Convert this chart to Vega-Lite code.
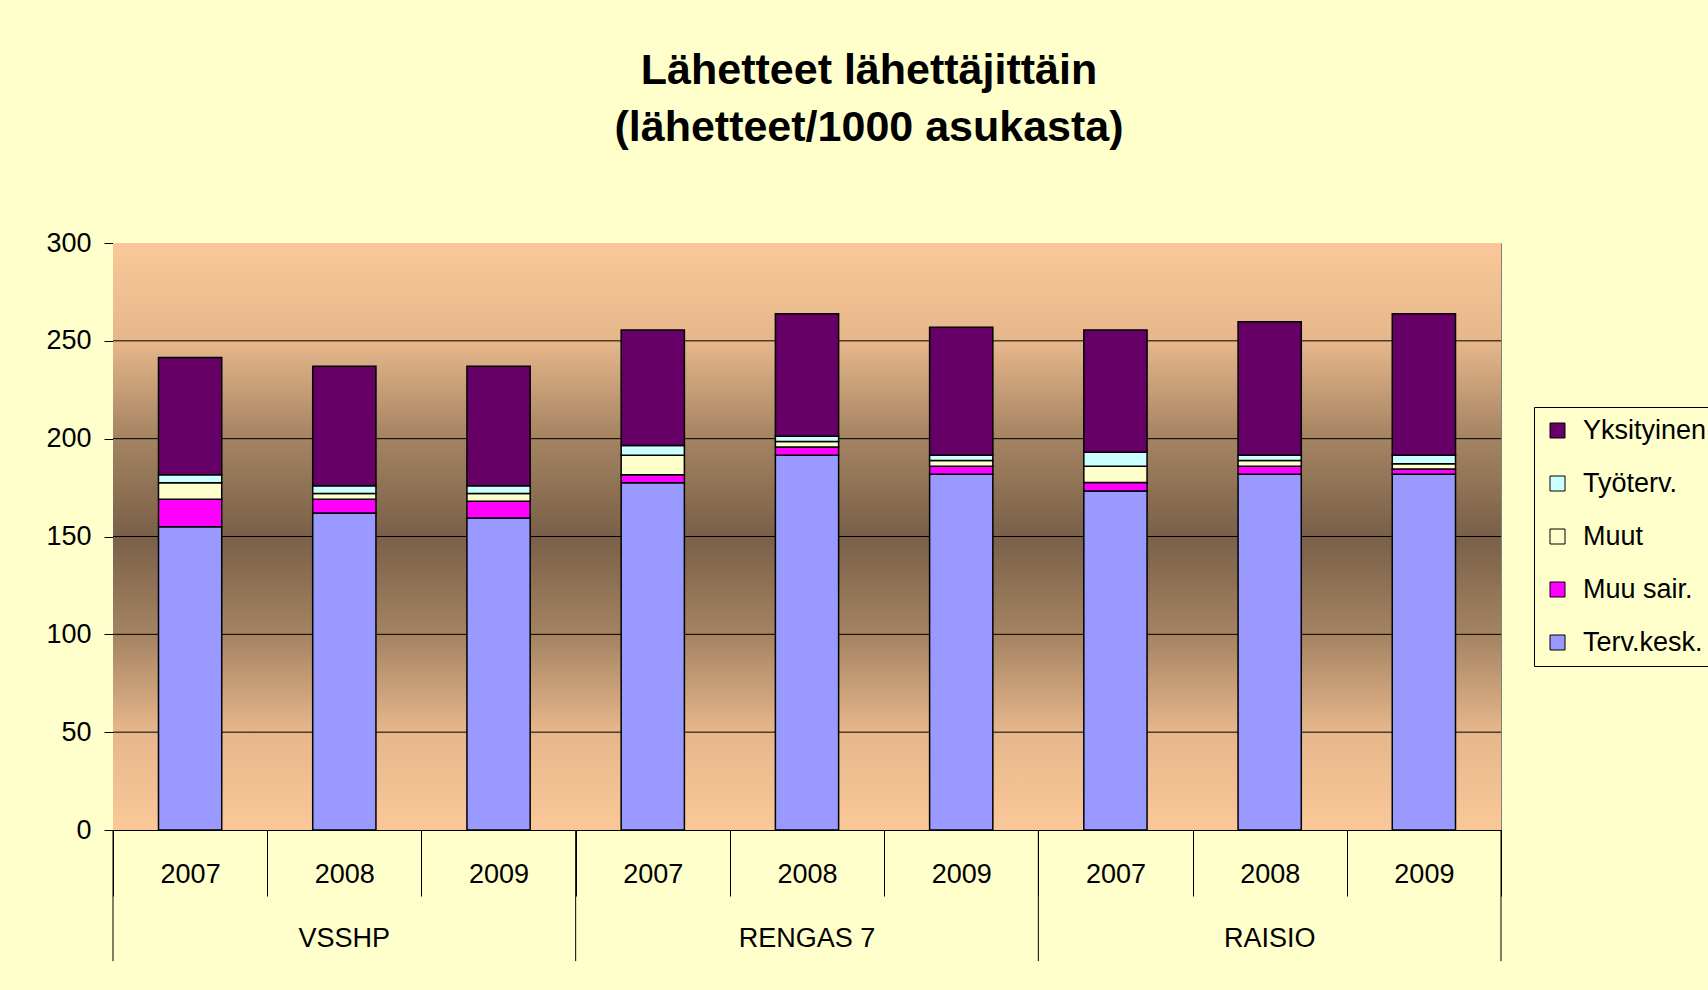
{
  "$schema": "https://vega.github.io/schema/vega-lite/v6.json",
  "width": 1388,
  "height": 587,
  "autosize": {"type": "none"},
  "padding": {"left": 113, "top": 243, "right": 207, "bottom": 160},
  "background": "#FFFFCC",
  "title": {
    "text": ["Lähetteet lähettäjittäin", "(lähetteet/1000 asukasta)"],
    "font": "Liberation Sans",
    "fontWeight": "bold",
    "fontSize": 43,
    "lineHeight": 57,
    "color": "#000000",
    "frame": "group",
    "anchor": "middle",
    "dx": 62,
    "offset": 79
  },
  "config": {
    "font": "Liberation Sans",
    "view": {"stroke": "#808080", "strokeWidth": 1},
    "axis": {"labelColor": "#000000", "domainColor": "#000000", "tickColor": "#000000", "labelFont": "Liberation Sans", "labelFontSize": 27, "grid": false},
    "legend": {
      "orient": "none",
      "legendX": 1421,
      "legendY": 164,
      "strokeColor": "#000000",
      "fillColor": "#FFFFCC",
      "padding": 10,
      "labelFontSize": 27,
      "labelFont": "Liberation Sans",
      "labelColor": "#000000",
      "symbolType": "square",
      "symbolSize": 225,
      "symbolStrokeColor": "#000000",
      "symbolStrokeWidth": 1,
      "rowPadding": 25,
      "labelOffset": 12
    }
  },
  "layer": [
    {
      "data": {"values": [{}]},
      "mark": {
        "type": "rect",
        "fill": {
          "gradient": "linear", "x1": 0, "y1": 0, "x2": 0, "y2": 1,
          "stops": [
            {"offset": 0, "color": "#FAC898"},
            {"offset": 0.17, "color": "#E6B68B"},
            {"offset": 0.33, "color": "#A58462"},
            {"offset": 0.5, "color": "#7A6049"},
            {"offset": 0.67, "color": "#A58462"},
            {"offset": 0.83, "color": "#E6B68B"},
            {"offset": 1, "color": "#FAC898"}
          ]
        }
      },
      "encoding": {
        "y": {"datum": 300, "type": "quantitative", "title": null},
        "y2": {"datum": 0}
      }
    },
    {
      "data": {"values": [{"v": 50}, {"v": 100}, {"v": 150}, {"v": 200}, {"v": 250}]},
      "mark": {"type": "rule", "color": "#000000", "strokeWidth": 1},
      "encoding": {
        "y": {"field": "v", "type": "quantitative", "title": null}
      }
    },
    {
      "data": {"values": [
        {"cat": "VSSHP|2007", "series": "Terv.kesk.", "ord": 1, "value": 155},
        {"cat": "VSSHP|2007", "series": "Muu sair.", "ord": 2, "value": 14},
        {"cat": "VSSHP|2007", "series": "Muut", "ord": 3, "value": 8.5},
        {"cat": "VSSHP|2007", "series": "Työterv.", "ord": 4, "value": 4},
        {"cat": "VSSHP|2007", "series": "Yksityinen", "ord": 5, "value": 60},
        {"cat": "VSSHP|2008", "series": "Terv.kesk.", "ord": 1, "value": 162},
        {"cat": "VSSHP|2008", "series": "Muu sair.", "ord": 2, "value": 7},
        {"cat": "VSSHP|2008", "series": "Muut", "ord": 3, "value": 3},
        {"cat": "VSSHP|2008", "series": "Työterv.", "ord": 4, "value": 4},
        {"cat": "VSSHP|2008", "series": "Yksityinen", "ord": 5, "value": 61},
        {"cat": "VSSHP|2009", "series": "Terv.kesk.", "ord": 1, "value": 159.5},
        {"cat": "VSSHP|2009", "series": "Muu sair.", "ord": 2, "value": 8.5},
        {"cat": "VSSHP|2009", "series": "Muut", "ord": 3, "value": 4},
        {"cat": "VSSHP|2009", "series": "Työterv.", "ord": 4, "value": 4},
        {"cat": "VSSHP|2009", "series": "Yksityinen", "ord": 5, "value": 61},
        {"cat": "RENGAS 7|2007", "series": "Terv.kesk.", "ord": 1, "value": 177.5},
        {"cat": "RENGAS 7|2007", "series": "Muu sair.", "ord": 2, "value": 4},
        {"cat": "RENGAS 7|2007", "series": "Muut", "ord": 3, "value": 10},
        {"cat": "RENGAS 7|2007", "series": "Työterv.", "ord": 4, "value": 5},
        {"cat": "RENGAS 7|2007", "series": "Yksityinen", "ord": 5, "value": 59},
        {"cat": "RENGAS 7|2008", "series": "Terv.kesk.", "ord": 1, "value": 191.5},
        {"cat": "RENGAS 7|2008", "series": "Muu sair.", "ord": 2, "value": 4.3},
        {"cat": "RENGAS 7|2008", "series": "Muut", "ord": 3, "value": 2.7},
        {"cat": "RENGAS 7|2008", "series": "Työterv.", "ord": 4, "value": 2.7},
        {"cat": "RENGAS 7|2008", "series": "Yksityinen", "ord": 5, "value": 62.7},
        {"cat": "RENGAS 7|2009", "series": "Terv.kesk.", "ord": 1, "value": 181.8},
        {"cat": "RENGAS 7|2009", "series": "Muu sair.", "ord": 2, "value": 4.1},
        {"cat": "RENGAS 7|2009", "series": "Muut", "ord": 3, "value": 2.9},
        {"cat": "RENGAS 7|2009", "series": "Työterv.", "ord": 4, "value": 2.7},
        {"cat": "RENGAS 7|2009", "series": "Yksityinen", "ord": 5, "value": 65.5},
        {"cat": "RAISIO|2007", "series": "Terv.kesk.", "ord": 1, "value": 173.3},
        {"cat": "RAISIO|2007", "series": "Muu sair.", "ord": 2, "value": 4.3},
        {"cat": "RAISIO|2007", "series": "Muut", "ord": 3, "value": 8.3},
        {"cat": "RAISIO|2007", "series": "Työterv.", "ord": 4, "value": 7.1},
        {"cat": "RAISIO|2007", "series": "Yksityinen", "ord": 5, "value": 62.6},
        {"cat": "RAISIO|2008", "series": "Terv.kesk.", "ord": 1, "value": 181.8},
        {"cat": "RAISIO|2008", "series": "Muu sair.", "ord": 2, "value": 4.1},
        {"cat": "RAISIO|2008", "series": "Muut", "ord": 3, "value": 2.9},
        {"cat": "RAISIO|2008", "series": "Työterv.", "ord": 4, "value": 2.7},
        {"cat": "RAISIO|2008", "series": "Yksityinen", "ord": 5, "value": 68.2},
        {"cat": "RAISIO|2009", "series": "Terv.kesk.", "ord": 1, "value": 181.8},
        {"cat": "RAISIO|2009", "series": "Muu sair.", "ord": 2, "value": 2.7},
        {"cat": "RAISIO|2009", "series": "Muut", "ord": 3, "value": 2.7},
        {"cat": "RAISIO|2009", "series": "Työterv.", "ord": 4, "value": 4.3},
        {"cat": "RAISIO|2009", "series": "Yksityinen", "ord": 5, "value": 72.4}
      ]},
      "mark": {"type": "bar", "stroke": "#000000", "strokeWidth": 1.5, "width": {"band": 0.41}},
      "encoding": {
        "x": {
          "field": "cat", "type": "nominal", "title": null,
          "scale": {"type": "band", "paddingInner": 0, "paddingOuter": 0,
            "domain": ["VSSHP|2007", "VSSHP|2008", "VSSHP|2009", "RENGAS 7|2007", "RENGAS 7|2008", "RENGAS 7|2009", "RAISIO|2007", "RAISIO|2008", "RAISIO|2009"]},
          "axis": {"title": null, "labelAngle": 0, "labelExpr": "split(datum.value, '|')[1]", "tickBand": "extent", "tickSize": 66, "labelPadding": -35, "domainWidth": 1}
        },
        "y": {
          "field": "value", "type": "quantitative", "stack": "zero", "title": null,
          "scale": {"domain": [0, 300], "nice": false},
          "axis": {"title": null, "values": [0, 50, 100, 150, 200, 250, 300], "tickSize": 9, "labelPadding": 13}
        },
        "color": {
          "field": "series", "type": "nominal",
          "scale": {"domain": ["Yksityinen", "Työterv.", "Muut", "Muu sair.", "Terv.kesk."], "range": ["#660066", "#CCFFFF", "#FFFFCC", "#FF00FF", "#9999FF"]},
          "legend": {"title": null}
        },
        "order": {"field": "ord", "type": "quantitative", "sort": "ascending"}
      }
    },
    {
      "data": {"values": [{"cat": "VSSHP|2007"}, {"cat": "RENGAS 7|2007"}, {"cat": "RAISIO|2007"}]},
      "mark": {"type": "rule", "color": "#000000", "strokeWidth": 1},
      "encoding": {
        "x": {"field": "cat", "type": "nominal", "bandPosition": 0, "title": null},
        "y": {"datum": 0, "type": "quantitative", "title": null},
        "y2": {"datum": -67}
      }
    },
    {
      "data": {"values": [{"cat": "RAISIO|2009"}]},
      "mark": {"type": "rule", "color": "#000000", "strokeWidth": 1},
      "encoding": {
        "x": {"field": "cat", "type": "nominal", "bandPosition": 1, "title": null},
        "y": {"datum": 0, "type": "quantitative", "title": null},
        "y2": {"datum": -67}
      }
    },
    {
      "data": {"values": [{"cat": "VSSHP|2008", "label": "VSSHP"}, {"cat": "RENGAS 7|2008", "label": "RENGAS 7"}, {"cat": "RAISIO|2008", "label": "RAISIO"}]},
      "mark": {"type": "text", "fontSize": 27, "font": "Liberation Sans", "color": "#000000", "baseline": "middle", "align": "center"},
      "encoding": {
        "x": {"field": "cat", "type": "nominal", "title": null},
        "y": {"datum": -55.5, "type": "quantitative", "title": null},
        "text": {"field": "label"}
      }
    }
  ]
}
